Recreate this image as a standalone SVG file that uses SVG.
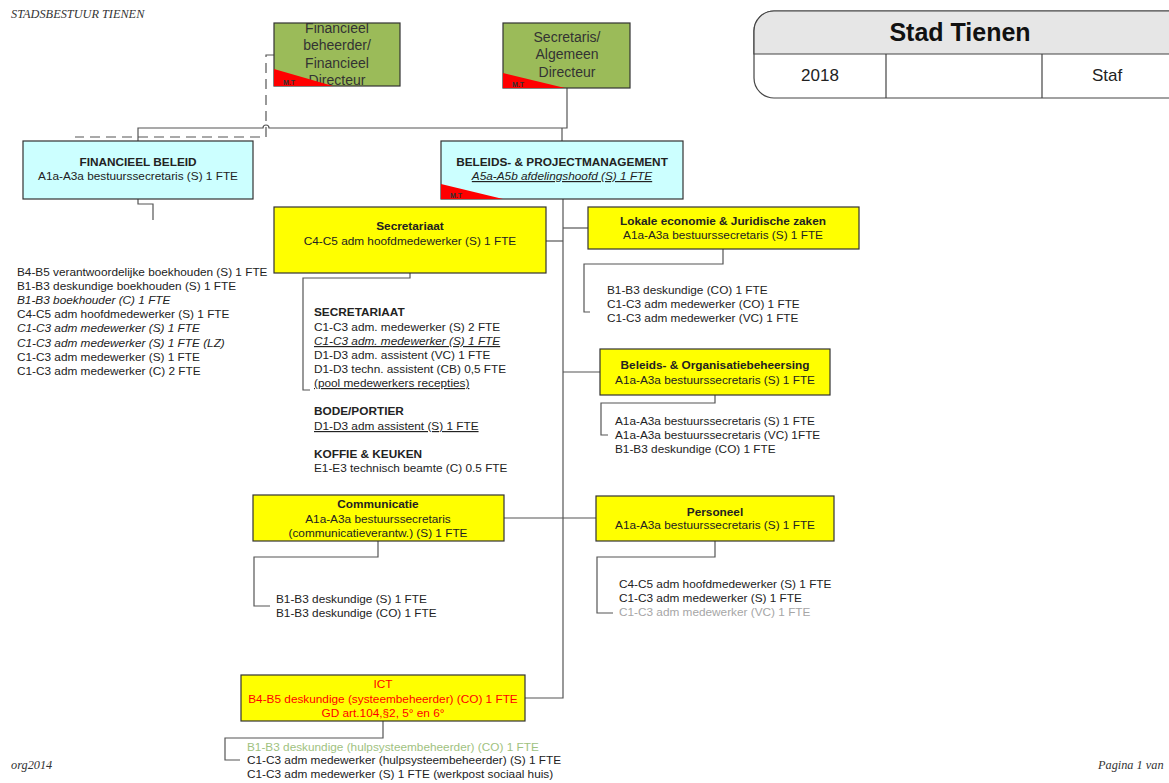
<svg xmlns="http://www.w3.org/2000/svg" width="1169" height="783" viewBox="0 0 1169 783">
<defs>
<style>
text{font-family:"Liberation Sans",Arial,sans-serif;font-size:11.8px;fill:#222}
.t{font-weight:bold}
.c{text-anchor:middle}
.i{font-style:italic}
.u{text-decoration:underline}
.ser{font-family:"Liberation Serif","Times New Roman",serif;font-style:italic;font-size:12.3px;fill:#333}
.ln{fill:none;stroke:#555;stroke-width:1.2}
.dash{fill:none;stroke:#555;stroke-width:1.2;stroke-dasharray:10 6}
.box{stroke:#333;stroke-width:1.2}
.yel{fill:#ffff00}
.cy{fill:#ccffff}
.gr{fill:#9bbb59}
.tri{fill:#ff0000}
.mt{font-size:7px;font-weight:bold;fill:#333}
.gt{font-size:14px;fill:#333;text-anchor:middle}
.red{fill:#ff0000}
</style>
<clipPath id="clipF"><rect x="274" y="23" width="126" height="63"/></clipPath>
<clipPath id="clipS"><rect x="503" y="23" width="127" height="65"/></clipPath>
</defs>

<text class="ser" x="11" y="18">STADSBESTUUR TIENEN</text>
<text class="ser" x="11" y="769">org2014</text>
<text class="ser" x="1098" y="769">Pagina 1 van</text>

<g id="header">
<path d="M774,11 H1175 V98 H774 A20,20 0 0 1 754,78 V31 A20,20 0 0 1 774,11 Z" fill="#fff" stroke="#444" stroke-width="1.2"/>
<path d="M774,11 H1175 V54 H754 V31 A20,20 0 0 1 774,11 Z" fill="#e6e6e6" stroke="#444" stroke-width="1.2"/>
<line x1="886" y1="54" x2="886" y2="98" stroke="#444" stroke-width="1.2"/>
<line x1="1042" y1="54" x2="1042" y2="98" stroke="#444" stroke-width="1.2"/>
<text x="960" y="41" class="t c" style="font-size:25px;fill:#111">Stad Tienen</text>
<text x="820" y="81" class="c" style="font-size:17px">2018</text>
<text x="1107" y="81" class="c" style="font-size:17px">Staf</text>
</g>

<g id="connectors">
<path class="dash" d="M274,55 H266 V137 H75"/>
<path class="ln" d="M138,141 V128 H263 A3,3 0 0 1 269,128 H567 V88"/>
<path class="ln" d="M562,128 V141"/>
<path class="ln" d="M138,199 V204 H153 V220"/>
<path class="ln" d="M563,199 V698 H525"/>
<path class="ln" d="M546,241 H563"/>
<path class="ln" d="M563,228 H588"/>
<path class="ln" d="M563,372 H600"/>
<path class="ln" d="M504,518 H563"/>
<path class="ln" d="M563,518 H596"/>
<path class="ln" d="M410,273 V278 H303 V390 H310"/>
<path class="ln" d="M723,249 V264 H584 V312 H590"/>
<path class="ln" d="M715,395 V403 H601 V435 H608"/>
<path class="ln" d="M378,541 V557 H254 V606 H270"/>
<path class="ln" d="M715,541 V557 H597 V613 H613"/>
<path class="ln" d="M383,721 V738 H225 V760 H240"/>
</g>

<g id="fin-beheerder">
<rect class="box gr" x="274" y="23" width="126" height="63"/>
<g clip-path="url(#clipF)">
<text class="gt" x="337" y="33">Financieel</text>
<text class="gt" x="337" y="50">beheerder/</text>
<text class="gt" x="337" y="68">Financieel</text>
<text class="gt" x="337" y="85">Directeur</text>
</g>
<polygon class="tri" points="274,69 274,86 333,86"/>
<text class="mt" x="283" y="85">M.T</text>
</g>

<g id="secretaris">
<rect class="box gr" x="503" y="23" width="127" height="65"/>
<text class="gt" x="567" y="42">Secretaris/</text>
<text class="gt" x="567" y="59">Algemeen</text>
<text class="gt" x="567" y="77">Directeur</text>
<polygon class="tri" points="503,73 503,88 565,88"/>
<text class="mt" x="512" y="87">M.T</text>
</g>

<g id="financieel-beleid">
<rect class="box cy" x="23" y="141" width="230" height="58"/>
<text class="t c" x="138" y="166">FINANCIEEL BELEID</text>
<text class="c" x="138" y="180">A1a-A3a bestuurssecretaris (S) 1 FTE</text>
</g>

<g id="beleids-project">
<rect class="box cy" x="441" y="141" width="242" height="58"/>
<text class="t c" x="562" y="166">BELEIDS- &amp; PROJECTMANAGEMENT</text>
<text class="c i u" x="562" y="180">A5a-A5b afdelingshoofd (S) 1 FTE</text>
<polygon class="tri" points="441,184 441,199 503,199"/>
<text class="mt" x="450" y="198">M.T</text>
</g>

<g id="fin-list">
<text x="17" y="276">B4-B5 verantwoordelijke boekhouden (S) 1 FTE</text>
<text x="17" y="290">B1-B3 deskundige boekhouden (S) 1 FTE</text>
<text x="17" y="304" class="i">B1-B3 boekhouder (C) 1 FTE</text>
<text x="17" y="318">C4-C5 adm hoofdmedewerker (S) 1 FTE</text>
<text x="17" y="332" class="i">C1-C3 adm medewerker (S) 1 FTE</text>
<text x="17" y="347" class="i">C1-C3 adm medewerker (S) 1 FTE (LZ)</text>
<text x="17" y="361">C1-C3 adm medewerker (S) 1 FTE</text>
<text x="17" y="375">C1-C3 adm medewerker (C) 2 FTE</text>
</g>

<g id="secretariaat">
<rect class="box yel" x="274" y="207" width="272" height="66"/>
<text class="t c" x="410" y="230">Secretariaat</text>
<text class="c" x="410" y="245">C4-C5 adm hoofdmedewerker (S) 1 FTE</text>
</g>

<g id="secretariaat-list">
<text x="314" y="316" class="t">SECRETARIAAT</text>
<text x="314" y="331">C1-C3 adm. medewerker (S) 2 FTE</text>
<text x="314" y="345" class="i u">C1-C3 adm. medewerker (S) 1 FTE</text>
<text x="314" y="359">D1-D3 adm. assistent (VC) 1 FTE</text>
<text x="314" y="373">D1-D3 techn. assistent (CB) 0,5 FTE</text>
<text x="314" y="387" class="u">(pool medewerkers recepties)</text>
<text x="314" y="415" class="t">BODE/PORTIER</text>
<text x="314" y="430" class="u">D1-D3 adm assistent (S) 1 FTE</text>
<text x="314" y="458" class="t">KOFFIE &amp; KEUKEN</text>
<text x="314" y="472">E1-E3 technisch beamte (C) 0.5 FTE</text>
</g>

<g id="lokale-economie">
<rect class="box yel" x="588" y="207" width="271" height="42"/>
<text class="t c" x="723" y="225">Lokale economie &amp; Juridische zaken</text>
<text class="c" x="723" y="239">A1a-A3a bestuurssecretaris (S) 1 FTE</text>
</g>
<g id="lokale-list">
<text x="607" y="294">B1-B3 deskundige (CO) 1 FTE</text>
<text x="607" y="308">C1-C3 adm medewerker (CO) 1 FTE</text>
<text x="607" y="322">C1-C3 adm medewerker (VC) 1 FTE</text>
</g>

<g id="beleids-organisatie">
<rect class="box yel" x="600" y="349" width="230" height="46"/>
<text class="t c" x="715" y="369">Beleids- &amp; Organisatiebeheersing</text>
<text class="c" x="715" y="384">A1a-A3a bestuurssecretaris (S) 1 FTE</text>
</g>
<g id="beleids-list">
<text x="615" y="425">A1a-A3a bestuurssecretaris (S) 1 FTE</text>
<text x="615" y="439">A1a-A3a bestuurssecretaris (VC) 1FTE</text>
<text x="615" y="453">B1-B3 deskundige (CO) 1 FTE</text>
</g>

<g id="communicatie">
<rect class="box yel" x="253" y="495" width="251" height="46"/>
<text class="t c" x="378" y="508">Communicatie</text>
<text class="c" x="378" y="523">A1a-A3a bestuurssecretaris</text>
<text class="c" x="378" y="537">(communicatieverantw.) (S) 1 FTE</text>
</g>
<g id="communicatie-list">
<text x="276" y="603">B1-B3 deskundige (S) 1 FTE</text>
<text x="276" y="617">B1-B3 deskundige (CO) 1 FTE</text>
</g>

<g id="personeel">
<rect class="box yel" x="596" y="496" width="238" height="45"/>
<text class="t c" x="715" y="516">Personeel</text>
<text class="c" x="715" y="529">A1a-A3a bestuurssecretaris (S) 1 FTE</text>
</g>
<g id="personeel-list">
<text x="619" y="588">C4-C5 adm hoofdmedewerker (S) 1 FTE</text>
<text x="619" y="602">C1-C3 adm medewerker (S) 1 FTE</text>
<text x="619" y="616" style="fill:#a6a6a6">C1-C3 adm medewerker (VC) 1 FTE</text>
</g>

<g id="ict">
<rect class="box yel" x="241" y="675" width="284" height="46"/>
<text class="c red" x="383" y="688">ICT</text>
<text class="c red" x="383" y="703">B4-B5 deskundige (systeembeheerder) (CO) 1 FTE</text>
<text class="c red" x="383" y="717">GD art.104,§2, 5° en 6°</text>
</g>
<g id="ict-list">
<text x="247" y="751" style="fill:#9fc27f">B1-B3 deskundige (hulpsysteembeheerder) (CO) 1 FTE</text>
<text x="247" y="764">C1-C3 adm medewerker (hulpsysteembeheerder) (S) 1 FTE</text>
<text x="247" y="778">C1-C3 adm medewerker (S) 1 FTE (werkpost sociaal huis)</text>
</g>
</svg>
